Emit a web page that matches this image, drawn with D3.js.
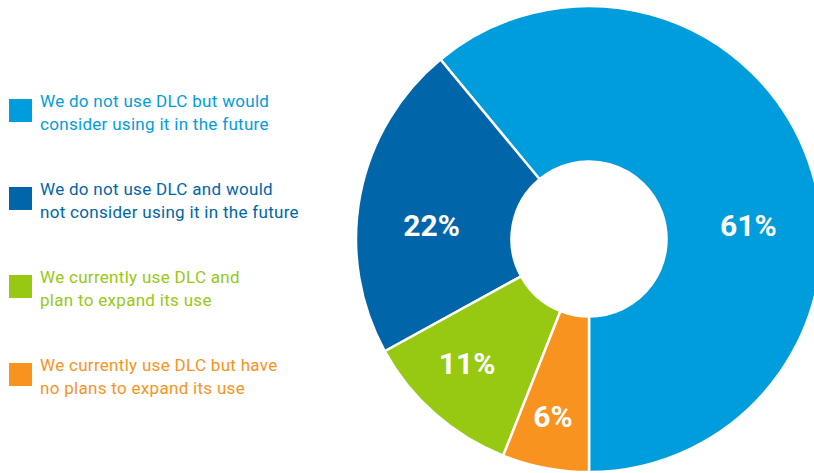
<!DOCTYPE html>
<html>
  <script src="https://cdn.jsdelivr.net/npm/d3@7/dist/d3.min.js" charset="utf-8"></script>
  <style>
    body{ margin: 0; background: #fff; }
    svg{ display: block; }
    .legend text{ font-family: Roboto, sans-serif; font-size: 17px; letter-spacing: 0.3px; }
    .pct{ font-family: Roboto, sans-serif; font-size: 30px; font-weight: bold; fill: #fff; }
  </style>
  <body>
    <script>

// legend order, values in percent
var categories = [
  ['We do not use DLC but would', 'consider using it in the future'],
  ['We do not use DLC and would', 'not consider using it in the future'],
  ['We currently use DLC and', 'plan to expand its use'],
  ['We currently use DLC but have', 'no plans to expand its use']
]
var values = [61, 22, 11, 6]
var labels = ['61%', '22%', '11%', '6%']
var colors = ['#009ddc', '#0065a9', '#97c912', '#f7931e']

var width = 814, height = 473
  , cx = 589, cy = 239, outerR = 233, innerR = 77.5

var svg = d3.select('body').append('svg')
  .attr('width', width).attr('height', height)

// slices run counter-clockwise from straight down
var pie = d3.pie().sort(null).value(function(d){ return d })
  .startAngle(Math.PI).endAngle(-Math.PI)

var arcs = pie(values)

var arc = d3.arc().innerRadius(innerR).outerRadius(outerR)

var g = svg.append('g').attr('transform', 'translate(' + cx + ',' + cy + ')')

g.selectAll('path').data(arcs).enter().append('path')
  .attr('d', arc)
  .attr('fill', function(d, i){ return colors[i] })
  .attr('stroke', '#fff')
  .attr('stroke-width', 2.5)
  .attr('stroke-linejoin', 'miter')

// label placement: radius and angle shift (deg) per slice
var labelR = [160, 158, 174, 181]
  , labelShift = [14.8, -5.7, 3.1, 0.7]

g.selectAll('text.pct').data(arcs).enter().append('text')
  .attr('class', 'pct')
  .attr('text-anchor', 'middle')
  .attr('dy', '0.36em')
  .attr('transform', function(d, i){
    var a = (d.startAngle + d.endAngle) / 2 + labelShift[i] * Math.PI / 180
    return 'translate(' + (labelR[i] * Math.sin(a)) + ',' + (-labelR[i] * Math.cos(a)) + ')'
  })
  .text(function(d, i){ return labels[i] })

// legend
var legend = svg.append('g').attr('class', 'legend')
  , item = legend.selectAll('g').data(categories).enter().append('g')
      .attr('transform', function(d, i){ return 'translate(9,' + (99 + i * 88) + ')' })

item.append('rect')
  .attr('width', 23).attr('height', 23)
  .attr('fill', function(d, i){ return colors[i] })

item.append('text')
  .attr('x', 31).attr('y', 8)
  .attr('fill', function(d, i){ return colors[i] })
  .selectAll('tspan').data(function(d){ return d }).enter().append('tspan')
    .attr('x', 31)
    .attr('dy', function(d, j){ return j ? 23 : 0 })
    .text(function(d){ return d })

    </script>
  </body>
</html>
